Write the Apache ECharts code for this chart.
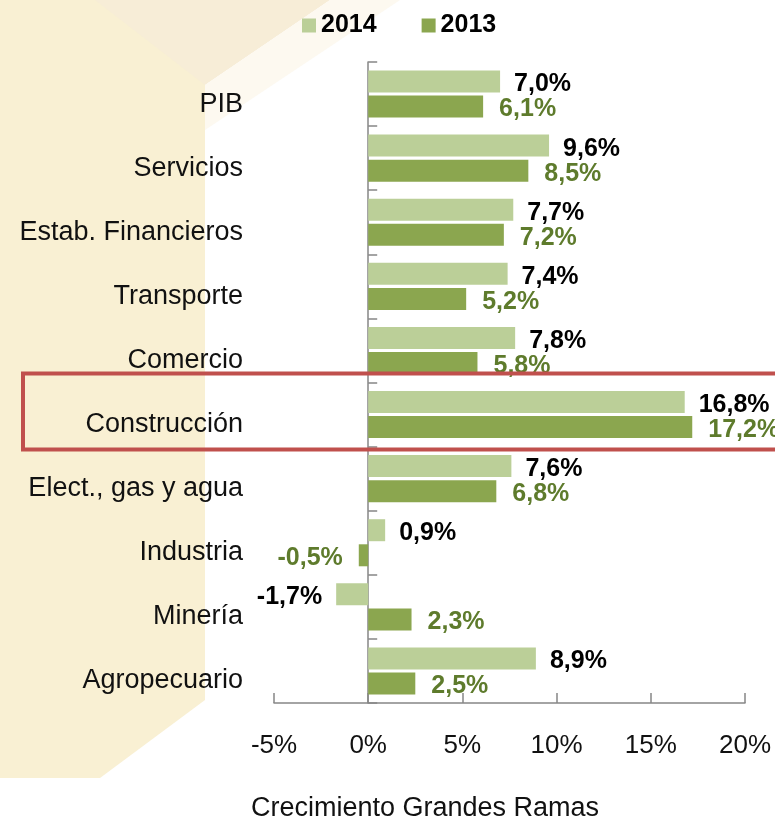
<!DOCTYPE html>
<html>
<head>
    <meta charset="utf-8">
    <title>Crecimiento Grandes Ramas</title>
    <script src="https://cdn.jsdelivr.net/npm/echarts@6/dist/echarts.min.js"></script>
    <style>
        html, body { margin: 0; padding: 0; background: #fff; }
    </style>
</head>
<body>
    <div id="main" style="width: 775px;height:822px;"></div>

    <script type="text/javascript">
    // datos (de arriba hacia abajo)
    var categorias = ['PIB', 'Servicios', 'Estab. Financieros', 'Transporte', 'Comercio',
                      'Construcción', 'Elect., gas y agua', 'Industria', 'Minería', 'Agropecuario'];
    var valores2014 = [7.0, 9.6, 7.7, 7.4, 7.8, 16.8, 7.6, 0.9, -1.7, 8.9];
    var valores2013 = [6.1, 8.5, 7.2, 5.2, 5.8, 17.2, 6.8, -0.5, 2.3, 2.5];
    var anios = ['2014', '2013'];
    var ejeX = { min: -5, max: 20, paso: 5 };
    var resaltado = 'Construcción';

    var fuente = '"Liberation Sans", Arial, sans-serif';

    function fmt(v) {
        return v.toFixed(1).replace('.', ',') + '%';
    }

    // los negativos llevan la etiqueta a la izquierda
    function armarDatos(arr) {
        return arr.map(function (v) {
            if (v < 0)
                return { value: v, label: { position: 'left' } };
            return v;
        });
    }

    var myChart = echarts.init(document.getElementById('main'));

    var option = {
        animation: false,
        backgroundColor: '#ffffff',
        legend: {
            data: anios,
            left: 297,
            top: 8,
            itemWidth: 14,
            itemHeight: 14,
            itemGap: 45,
            icon: 'rect',
            textStyle: { fontFamily: fuente, fontSize: 25, fontWeight: 'bold', color: '#000' }
        },
        grid: {
            left: 274,
            right: 30,
            top: 62,
            bottom: 119,
            containLabel: false,
            outerBoundsMode: 'none'
        },
        xAxis: {
            type: 'value',
            min: ejeX.min,
            max: ejeX.max,
            interval: ejeX.paso,
            splitLine: { show: false },
            axisLine: { show: true, lineStyle: { color: '#868686', width: 1.5 } },
            axisTick: { show: true, inside: true, length: 10, lineStyle: { color: '#868686', width: 1.5 } },
            axisLabel: {
                margin: 30,
                fontFamily: fuente,
                fontSize: 26,
                color: '#111',
                formatter: function (v) { return v + '%'; }
            }
        },
        yAxis: {
            type: 'category',
            inverse: true,
            data: categorias,
            axisLine: { show: true, onZero: true, lineStyle: { color: '#868686', width: 1.5 } },
            axisTick: { show: true, inside: true, length: 9, lineStyle: { color: '#868686', width: 1.5 } },
            axisLabel: {
                margin: 31,
                verticalAlign: 'top',
                lineHeight: 20,
                fontFamily: fuente,
                fontSize: 27,
                color: '#111'
            }
        },
        series: [
            {
                name: anios[0],
                type: 'bar',
                barWidth: 22,
                barGap: '14%',
                itemStyle: { color: '#BBCF98' },
                label: {
                    show: true,
                    position: 'right',
                    distance: 14,
                    offset: [0, 3],
                    fontFamily: fuente,
                    fontSize: 25,
                    fontWeight: 'bold',
                    color: '#000',
                    formatter: function (p) { return fmt(p.value); }
                },
                data: armarDatos(valores2014)
            },
            {
                name: anios[1],
                type: 'bar',
                barWidth: 22,
                itemStyle: { color: '#8BA64F' },
                label: {
                    show: true,
                    position: 'right',
                    distance: 16,
                    offset: [0, 3],
                    fontFamily: fuente,
                    fontSize: 25,
                    fontWeight: 'bold',
                    color: '#5E7B2C',
                    formatter: function (p) { return fmt(p.value); }
                },
                data: armarDatos(valores2013)
            }
        ],
        graphic: [
            {
                type: 'polygon',
                z: -10,
                silent: true,
                shape: { points: [[0, 0], [205, 0], [205, 700], [100, 778], [0, 778]] },
                style: { fill: '#F9F0D3' }
            },
            {
                type: 'polygon',
                z: -9,
                silent: true,
                shape: { points: [[95, 0], [330, 0], [205, 85]] },
                style: { fill: '#F7EDD7' }
            },
            {
                type: 'polygon',
                z: -9,
                silent: true,
                shape: { points: [[330, 0], [400, 0], [205, 130], [205, 85]] },
                style: { fill: '#FDF9F0' }
            },
            {
                type: 'text',
                x: 425,
                y: 795,
                style: {
                    text: 'Crecimiento Grandes Ramas',
                    textAlign: 'center',
                    fontFamily: fuente,
                    fontSize: 27,
                    fill: '#111'
                }
            }
        ]
    };

    myChart.setOption(option);

    // recuadro rojo alrededor de la categoria resaltada
    var yc = myChart.convertToPixel({ yAxisIndex: 0 }, resaltado);
    myChart.setOption({
        graphic: [
            {
                type: 'rect',
                id: 'recuadro',
                z: 100,
                silent: true,
                shape: { x: 23, y: yc - 41, width: 800, height: 76 },
                style: { fill: 'none', stroke: '#C0504D', lineWidth: 4 }
            }
        ]
    });
    </script>
</body>
</html>
